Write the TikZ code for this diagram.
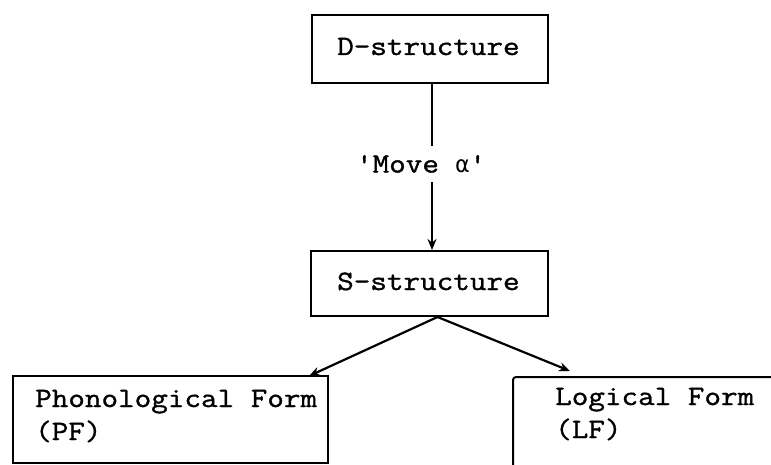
\documentclass[tikz,border=0pt]{standalone}
\usepackage{fontspec}
\setmonofont{Latin Modern Mono}[FakeStretch=1.15,FakeBold=1.2]
\newfontfamily\grk{DejaVu Sans Mono}
\usetikzlibrary{arrows.meta}
\tikzset{
  box/.style={draw, line width=2pt, rectangle, inner sep=0pt, anchor=north west},
  txt/.style={inner sep=0pt, font=\ttfamily\fontsize{28}{33}\selectfont, align=left},
  conn/.style={line width=2.2pt, -{Stealth[length=11pt,width=9pt]}},
  plain/.style={line width=2pt}
}
\begin{document}
\begin{tikzpicture}[x=1pt,y=-1pt]
\useasboundingbox (0,0) rectangle (771,465);
% boxes
\node[box, minimum width=236pt, minimum height=68pt] (dbox) at (311,14) {};
\node[box, minimum width=237pt, minimum height=65pt] (sbox) at (310,250) {};
\node[box, minimum width=315pt, minimum height=87pt] (pfbox) at (12,375) {};
\draw[line width=2pt, rounded corners=3pt] (513,465) -- (513,377) -- (771,377);
% texts
\node[txt, anchor=base west] (dtext) at (337,55) {D-structure};
\node[txt, anchor=base west] (stext) at (337,290) {S-structure};
\node[txt, anchor=base west] (pftext) at (35,440) {Phonological Form\\(PF)};
\node[txt, anchor=base west] (lftext) at (555,438) {Logical Form\\(LF)};
\node[txt, minimum height=36pt, anchor=center] (mv) at (421,164) {'Move {\grk\fontsize{23}{23}\selectfont α}'};
% connectors
\coordinate (dtop) at (432,82);
\draw[plain] (dbox.south -| dtop) -- (mv.north -| dtop);
\draw[conn] (mv.south -| dtop) -- (sbox.north -| dtop);
\coordinate (fork) at ([xshift=8pt]sbox.south);
\coordinate (pfin) at ([xshift=-20pt,yshift=-1pt]pfbox.north east);
\coordinate (lfin) at (570,371);
\draw[conn] (fork) -- (pfin);
\draw[conn] (fork) -- (lfin);
\end{tikzpicture}
\end{document}
